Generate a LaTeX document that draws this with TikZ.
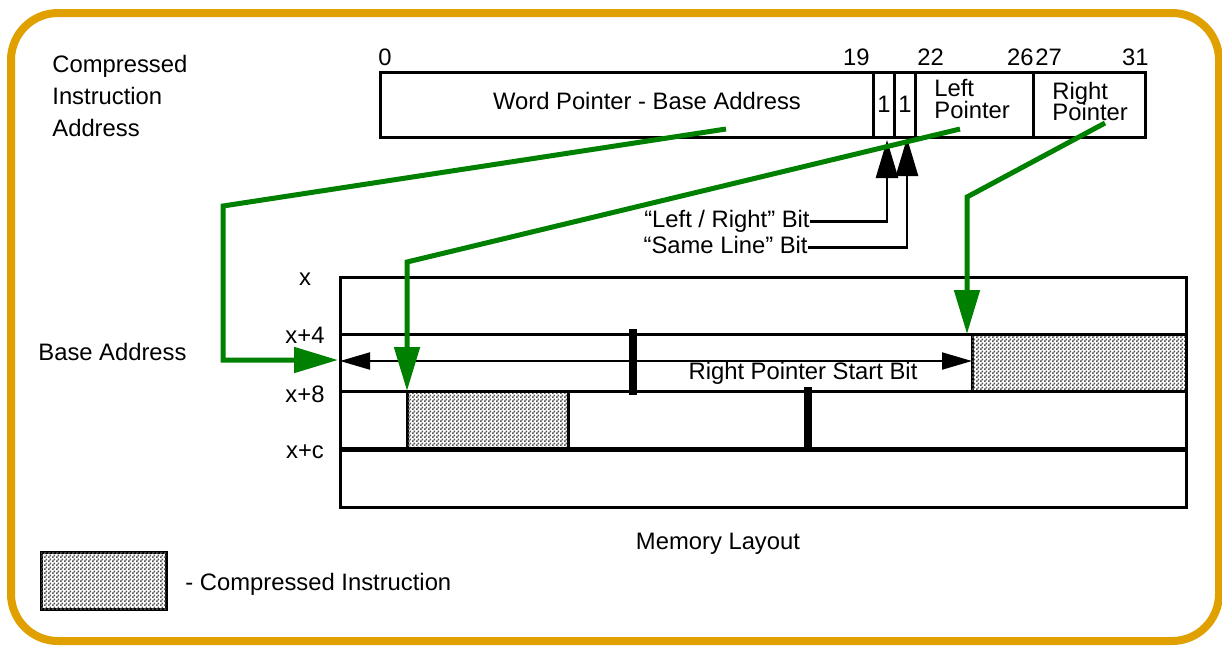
\documentclass[tikz,border=0pt]{standalone}
\usepackage{fontspec}
\setmainfont{Liberation Sans}
\usetikzlibrary{arrows.meta,patterns}
\definecolor{frameorange}{RGB}{224,160,0}
\definecolor{ptrgreen}{RGB}{0,128,0}
\pgfdeclarepatternformonly{finecheck}{\pgfpointorigin}{\pgfqpoint{2pt}{2pt}}{\pgfqpoint{2pt}{2pt}}{%
  \pgfpathrectangle{\pgfpointorigin}{\pgfqpoint{1pt}{1pt}}%
  \pgfpathrectangle{\pgfqpoint{1pt}{1pt}}{\pgfqpoint{1pt}{1pt}}%
  \pgfusepath{fill}}
\begin{document}
\begin{tikzpicture}[x=0.5pt,y=-0.5pt,
  txt/.style={inner sep=0pt, font=\fontsize{11.9}{13}\selectfont},
  regline/.style={line width=1.5pt},
  box/.style={draw, line width=1.5pt, inner sep=0pt, outer sep=0pt},
  hatchbox/.style={draw, line width=1.5pt, fill=white, inner sep=0pt, outer sep=0pt,
    postaction={pattern=finecheck, pattern color=black!68}},
  gline/.style={draw=ptrgreen, line width=2.5pt, line join=miter,
    -{Triangle[length=22pt,width=12.5pt]}, fill=none},
  barrow/.style={line width=1.3pt, -{Triangle[length=19pt,width=11pt]}},
  darrow/.style={line width=1pt, {Triangle[length=15pt,width=8.5pt]}-{Triangle[length=15pt,width=8.5pt]}},
  bar/.style={line width=4pt}]
\useasboundingbox (0,0) rectangle (1222,645);
% frame
\draw[frameorange, line width=4pt, rounded corners=23.5pt] (11,13) rectangle (1219,641);

% left title
\node[txt, anchor=base west] (cia1) at (52,72) {Compressed};
\node[txt, anchor=base west] (cia2) at (52,104) {Instruction};
\node[txt, anchor=base west] (cia3) at (52,136) {Address};

% register
\node[box, minimum width=382.5pt, minimum height=32.5pt] (reg) at (762.5,104.5) {};
\draw[regline] (873,72) -- (873,137);
\draw[regline] (894,72) -- (894,137);
\draw[regline] (915,72) -- (915,137);
\draw[regline] (1033,72) -- (1033,137);
\node[txt, anchor=base west] (n0) at (378,65) {0};
\node[txt, anchor=base east] (n19) at (870,65) {19};
\node[txt, anchor=base west] (n22) at (917,65) {22};
\node[txt, anchor=base east] (n26) at (1034,65) {26};
\node[txt, anchor=base west] (n27) at (1035,65) {27};
\node[txt, anchor=base east] (n31) at (1149,65) {31};
\node[txt, anchor=base] (wp) at (647,109) {Word Pointer - Base Address};
\node[txt, anchor=base] (one1) at (884,112) {1};
\node[txt, anchor=base] (one2) at (905,112) {1};
\node[txt, anchor=base west] (lp1) at (934,96) {Left};
\node[txt, anchor=base west] (lp2) at (934,118) {Pointer};
\node[txt, anchor=base west] (rp1) at (1052,99) {Right};
\node[txt, anchor=base west] (rp2) at (1052,120) {Pointer};

% memory layout
\node[hatchbox, minimum width=107pt, minimum height=28.5pt] (rhat) at (1079,362.5) {};
\node[hatchbox, minimum width=80.5pt, minimum height=29pt] (lhat) at (487.5,420) {};
\node[box, minimum width=423pt, minimum height=115pt] (mem) at (763,392) {};
\draw[regline] (340,334) -- (1186,334);
\draw[regline] (340,391) -- (1187,391);
\draw[line width=2.5pt] (340,449) -- (1186,449);
\draw[bar] (633,329) -- (633,395);
\draw[bar] (808,387) -- (808,449);

\node[txt, anchor=base] (lx0) at (305,285) {x};
\node[txt, anchor=base] (lx4) at (305,343) {x+4};
\node[txt, anchor=base] (lx8) at (305,402) {x+8};
\node[txt, anchor=base] (lxc) at (305,458) {x+c};
\node[txt, anchor=base west] (ba) at (38,360) {Base Address};
\node[txt, anchor=base] (ml) at (718,549) {Memory Layout};
\node[txt, anchor=base] (rpsb) at (803,379) {Right Pointer Start Bit};

\coordinate (row1w) at (340,361);
\draw[darrow] (row1w) -- (rhat.west |- row1w);

% legend
\node[hatchbox, minimum width=62.5pt, minimum height=28.5pt] (legend) at (103.5,580.5) {};
\node[txt, anchor=base west] (legendtxt) at (185,590) {- Compressed Instruction};

% bit labels with arrows
\node[txt, anchor=base east] (lrbit) at (810,227) {“Left / Right” Bit};
\node[txt, anchor=base east] (slbit) at (808,253) {“Same Line” Bit};
\coordinate (tip1) at (887,140);
\coordinate (tip2) at (907,138);
\draw[barrow] (lrbit.mid east) -| (tip1);
\draw[barrow] (slbit.mid east) -| (tip2);

% green pointers
\coordinate (g1s) at (726,129);
\coordinate (g1b) at (223,206);
\coordinate (g1e) at (338,360);
\draw[gline] (g1s) -- (g1b) |- (g1e);
\coordinate (g2s) at (960,129);
\coordinate (g2b) at (407,262);
\draw[gline] (g2s) -- (g2b) -- (lhat.north west);
\coordinate (g3s) at (1105,123);
\coordinate (g3b) at (967,197);
\coordinate (g3e) at (967,334);
\draw[gline] (g3s) -- (g3b) -- (g3e);
\end{tikzpicture}
\end{document}
